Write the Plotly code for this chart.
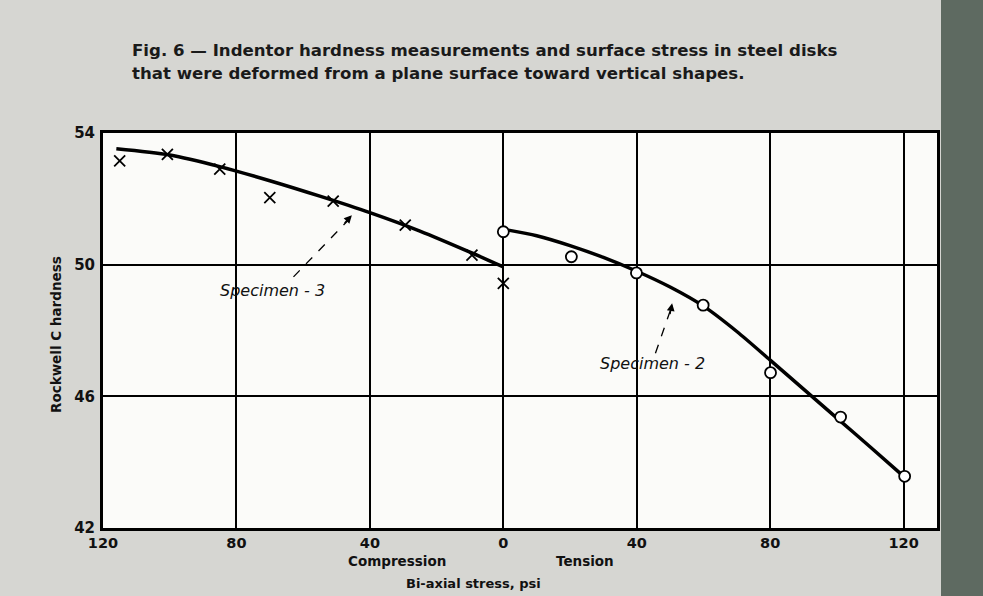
import plotly.graph_objects as go

# ---- data ----
# Specimen-3 (compression side, crosses); x negative = compression
spec3_x = [-115, -100.7, -85, -70, -51, -29.4, -9.4, 0]
spec3_y = [53.15, 53.35, 52.9, 52.04, 51.93, 51.2, 50.29, 49.43]
curve3_x = [-116, -100, -85, -70, -55, -40, -25, -10, 0]
curve3_y = [53.52, 53.33, 52.98, 52.55, 52.08, 51.58, 51.02, 50.38, 49.93]

# Specimen-2 (tension side, circles)
spec2_x = [0, 20.4, 39.9, 59.9, 80.1, 101.1, 120.3]
spec2_y = [51.0, 50.24, 49.75, 48.77, 46.72, 45.37, 43.57]
curve2_x = [1.5, 10, 20, 30, 40, 50, 60, 70, 80, 90, 100, 110, 120]
curve2_y = [51.05, 50.88, 50.58, 50.22, 49.8, 49.32, 48.74, 47.97, 47.1, 46.22, 45.34, 44.46, 43.57]

x_tickvals = [-120, -80, -40, 0, 40, 80, 120]
x_ticktext = ["120", "80", "40", "0", "40", "80", "120"]
y_tickvals = [42, 46, 50, 54]
y_ticktext = ["42", "46", "50", "54"]

FONT = "DejaVu Sans"

fig = go.Figure()

fig.add_trace(go.Scatter(x=curve3_x, y=curve3_y, mode="lines",
                         line=dict(color="black", width=3.5, shape="spline", smoothing=0.8),
                         hoverinfo="skip", showlegend=False))
fig.add_trace(go.Scatter(x=curve2_x, y=curve2_y, mode="lines",
                         line=dict(color="black", width=3.5, shape="spline", smoothing=0.8),
                         hoverinfo="skip", showlegend=False))
fig.add_trace(go.Scatter(x=spec3_x, y=spec3_y, mode="markers", name="Specimen-3",
                         marker=dict(symbol="x-thin", size=11, color="black",
                                     line=dict(color="black", width=1.8)),
                         showlegend=False))
fig.add_trace(go.Scatter(x=spec2_x, y=spec2_y, mode="markers", name="Specimen-2",
                         marker=dict(symbol="circle", size=11, color="white",
                                     line=dict(color="black", width=1.8)),
                         showlegend=False))

# dashed leader lines
fig.add_shape(type="line", x0=-62.9, y0=49.63, x1=-46.5, y1=51.35,
              line=dict(color="black", width=1.3, dash="dash"), layer="above")
fig.add_shape(type="line", x0=45.6, y0=47.31, x1=50.2, y1=48.65,
              line=dict(color="black", width=1.3, dash="dash"), layer="above")
# arrow heads
fig.add_annotation(x=-45.4, y=51.5, ax=-48, ay=51.22, xref="x", yref="y",
                   axref="x", ayref="y", text="", showarrow=True,
                   arrowhead=2, arrowsize=1.2, arrowwidth=1.3, arrowcolor="black")
fig.add_annotation(x=50.6, y=48.83, ax=49.9, ay=48.45, xref="x", yref="y",
                   axref="x", ayref="y", text="", showarrow=True,
                   arrowhead=2, arrowsize=1.2, arrowwidth=1.3, arrowcolor="black")

fig.add_annotation(x=-69.3, y=49.23, xref="x", yref="y", text="<i>Specimen - 3</i>",
                   showarrow=False, font=dict(family=FONT, size=16, color="#111"))
fig.add_annotation(x=44.6, y=47.0, xref="x", yref="y", text="<i>Specimen - 2</i>",
                   showarrow=False, font=dict(family=FONT, size=16, color="#111"))

# title lines
def px2x(px):
    return (px - 103) / 834.0

def py2y(py):
    return (528 - py) / 395.0

fig.add_annotation(x=px2x(130), y=py2y(50), xref="paper", yref="paper",
                   xanchor="left", yanchor="middle", showarrow=False,
                   text="<b>Fig. 6 \u2014 Indentor hardness measurements and surface stress in steel disks</b>",
                   font=dict(family=FONT, size=16.6, color="#1a1a1a"))
fig.add_annotation(x=px2x(130), y=py2y(73), xref="paper", yref="paper",
                   xanchor="left", yanchor="middle", showarrow=False,
                   text="<b>that were deformed from a plane surface toward vertical shapes.</b>",
                   font=dict(family=FONT, size=16.6, color="#1a1a1a"))

# axis texts
fig.add_annotation(x=px2x(397), y=py2y(561), xref="paper", yref="paper",
                   xanchor="center", yanchor="middle",
                   showarrow=False, text="<b>Compression</b>",
                   font=dict(family=FONT, size=13.5, color="#111"))
fig.add_annotation(x=px2x(585), y=py2y(561), xref="paper", yref="paper",
                   xanchor="center", yanchor="middle",
                   showarrow=False, text="<b>Tension</b>",
                   font=dict(family=FONT, size=13.5, color="#111"))
fig.add_annotation(x=px2x(473), y=py2y(583), xref="paper", yref="paper",
                   xanchor="center", yanchor="middle",
                   showarrow=False, text="<b>Bi-axial stress, psi</b>",
                   font=dict(family=FONT, size=13, color="#111"))
fig.add_annotation(x=px2x(56), y=py2y(335), xref="paper", yref="paper",
                   xanchor="center", yanchor="middle",
                   showarrow=False, textangle=-90, text="<b>Rockwell C hardness</b>",
                   font=dict(family=FONT, size=13.5, color="#111"))

# dark scanned edge on the right
fig.add_shape(type="rect", xref="paper", yref="paper",
              x0=px2x(941), x1=px2x(990), y0=-0.25, y1=1.45,
              fillcolor="#5e6a61", line=dict(width=0), layer="below")

fig.update_layout(
    width=983, height=596,
    margin=dict(l=103, r=46, t=133, b=68),
    paper_bgcolor="#d6d6d2",
    plot_bgcolor="#fbfbf9",
    font=dict(family=FONT, color="#111"),
    showlegend=False,
)
fig.update_xaxes(range=[-120, 130], tickvals=x_tickvals,
                 ticktext=["<b>%s</b>" % t for t in x_ticktext],
                 showgrid=True, gridcolor="black", gridwidth=1.8,
                 zeroline=False, showline=True, linecolor="black", linewidth=3,
                 mirror=True, ticks="", tickfont=dict(family=FONT, size=14.5, color="#111"),
                 ticklabelstandoff=0)
fig.update_yaxes(range=[42, 54], tickvals=y_tickvals,
                 ticktext=["<b>%s</b>" % t for t in y_ticktext],
                 showgrid=True, gridcolor="black", gridwidth=1.8,
                 zeroline=False, showline=True, linecolor="black", linewidth=3,
                 mirror=True, ticks="", tickfont=dict(family=FONT, size=15, color="#111"),
                 ticklabelstandoff=2)

fig.write_html("out.html", config={"displayModeBar": False},
               post_script="document.body.style.margin='0';")
